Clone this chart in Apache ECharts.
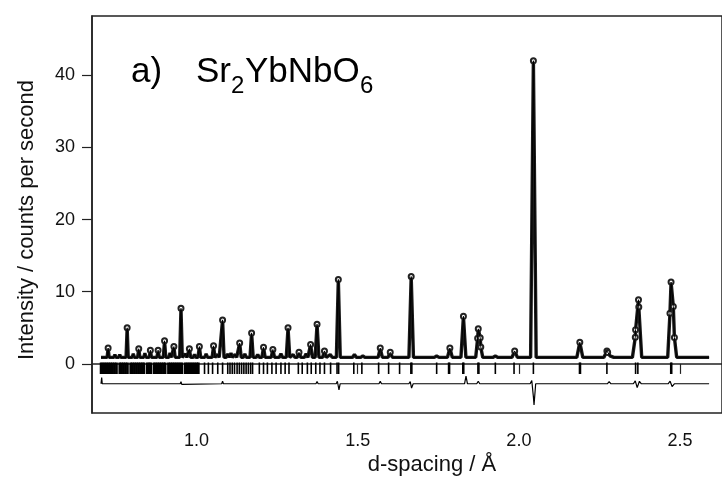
<!DOCTYPE html>
<html>
<head>
<meta charset="utf-8">
<script src="https://cdn.jsdelivr.net/npm/echarts@6/dist/echarts.min.js"></script>
<style>
  html, body { margin: 0; padding: 0; background: #fff; }
  #chart { width: 722px; height: 478px; }
</style>
</head>
<body>
<div id="chart"></div>
<script>
// 观测到的背景强度
const background = 0.9
// 衍射峰 [d-spacing, 峰值强度]
const peaks = [
  [0.726, 2.2], [0.747, 1.3], [0.762, 1.3], [0.785, 5.0], [0.804, 1.4],
  [0.821, 2.1], [0.840, 1.5], [0.857, 1.9], [0.881, 1.9], [0.901, 3.2],
  [0.918, 1.5], [0.930, 2.4], [0.952, 7.7], [0.966, 1.4], [0.978, 2.1],
  [0.994, 1.3], [1.009, 2.4], [1.030, 1.4], [1.053, 2.5], [1.066, 1.3],
  [1.081, 6.1], [1.097, 1.4], [1.107, 1.5], [1.120, 1.3], [1.134, 2.9],
  [1.150, 1.4], [1.171, 4.3], [1.190, 1.3], [1.208, 2.3], [1.237, 2.0],
  [1.262, 1.4], [1.284, 5.0], [1.300, 1.3], [1.318, 1.6], [1.340, 1.4],
  [1.354, 2.7], [1.374, 5.5], [1.397, 1.8], [1.415, 1.3], [1.440, 11.7],
  [1.490, 1.3], [1.516, 1.1], [1.570, 2.2], [1.601, 1.6], [1.666, 12.1],
  [1.745, 1.1], [1.786, 2.2], [1.828, 6.6], [1.874, 4.4], [1.880, 2.8],
  [1.927, 1.1], [1.987, 1.8], [2.045, 42.0], [2.189, 3.0], [2.273, 1.8],
  [2.285, 1.2], [2.362, 4.0], [2.371, 8.6], [2.472, 10.0], [2.479, 5.0]
]
// 布拉格反射位置（低d区密集）
const denseReflections = [
  0.704, 0.710, 0.716, 0.722, 0.728, 0.734, 0.740, 0.746, 0.752,
  0.762, 0.768, 0.774, 0.780, 0.786,
  0.796, 0.802, 0.808, 0.814, 0.820, 0.826, 0.832, 0.837,
  0.847, 0.853, 0.858,
  0.868, 0.874, 0.880, 0.886, 0.892, 0.898, 0.903,
  0.913, 0.919, 0.925, 0.931, 0.937, 0.943, 0.949, 0.955,
  0.965, 0.971, 0.977, 0.983, 0.989, 0.995, 1.001, 1.006
]
const reflections = [
  1.025, 1.037, 1.050, 1.066, 1.081,
  1.097, 1.104, 1.111, 1.118, 1.126, 1.133, 1.140, 1.147, 1.154, 1.161, 1.168, 1.174,
  1.195, 1.208, 1.220, 1.234, 1.247, 1.262, 1.275, 1.287,
  1.316, 1.328, 1.344, 1.356, 1.370, 1.383, 1.397, 1.416, 1.436, 1.441,
  1.488, 1.513, 1.565, 1.596, 1.630, 1.665, 1.668, 1.745, 1.782, 1.785,
  1.826, 1.829, 1.873, 1.876, 1.927, 1.985, 2.045, 2.188, 2.191, 2.273,
  2.362, 2.369, 2.471, 2.474
]
// 反射标记的强度范围
const reflTop = 0.2
const reflBottom = -1.4
// 差值曲线
const diffBase = -2.75
const diffFeatures = [
  [0.706, -1.9], [0.952, -2.45], [0.956, -3.0], [1.081, -2.4], [1.171, -2.5],
  [1.284, -2.5], [1.374, -2.45], [1.437, -2.4], [1.442, -3.6], [1.570, -2.4],
  [1.663, -2.45], [1.668, -3.5], [1.836, -1.7], [1.874, -2.4], [2.040, -2.3],
  [2.047, -5.7], [2.189, -2.5], [2.280, -2.45], [2.361, -2.35], [2.368, -3.4],
  [2.374, -2.4], [2.469, -2.4], [2.476, -3.2]
]
const xTicks = [1.0, 1.5, 2.0, 2.5]
const yTicks = [0, 10, 20, 30, 40]
const dStart = 0.704
const dEnd = 2.59

// 把峰列表转成折线点（三角形叠加）
function profile(list, base, widthFactor) {
  const xs = [dStart, dEnd]
  list.forEach(([d]) => {
    const w = widthFactor * d
    xs.push(d - w, d, d + w)
  })
  xs.sort((a, b) => a - b)
  return xs
    .filter((x) => x >= dStart && x <= dEnd)
    .map((x) => {
      let y = base
      list.forEach(([d, h]) => {
        const t = 1 - Math.abs(x - d) / (widthFactor * d)
        if (t > 0) y += (h - base) * t
      })
      return [x, y]
    })
}

const obsData = profile(peaks, background, 0.0042)
const diffData = profile(diffFeatures, diffBase, 0.0025)
// 只在峰处画圆圈
const obsPoints = obsData.map((p) =>
  p[1] > background + 0.6 ? { value: p } : { value: p, symbol: 'none' }
)

// 画反射竖线
function reflItem(width) {
  return function (params, api) {
    const p1 = api.coord([api.value(0), reflTop])
    const p2 = api.coord([api.value(0), reflBottom])
    return {
      type: 'rect',
      shape: { x: p1[0] - width / 2, y: p1[1], width: width, height: p2[1] - p1[1] },
      style: { fill: '#000' }
    }
  }
}

const font = '"Liberation Sans", Arial, sans-serif'
// 标题文字（主体 + 下标）
function titleText(text, x, y, size) {
  return {
    type: 'text', x: x, y: y,
    style: { text: text, font: size + 'px ' + font, fill: '#000', verticalAlign: 'middle' }
  }
}

const chart = echarts.init(document.getElementById('chart'))

const option = {
  animation: false,
  grid: {
    left: 92, top: 16, width: 633, height: 397,
    show: true, borderColor: '#222', borderWidth: 1.5, backgroundColor: 'transparent'
  },
  xAxis: {
    type: 'value', min: 0.676, max: 2.63,
    axisLine: { lineStyle: { color: '#222', width: 1.5 } },
    axisTick: { inside: false, length: 10, lineStyle: { color: '#222', width: 1.2 }, customValues: xTicks },
    axisLabel: { customValues: xTicks, formatter: (v) => v.toFixed(1), fontSize: 18, color: '#111', margin: 19, fontFamily: font },
    splitLine: { show: false }
  },
  yAxis: {
    type: 'value', min: -6.8, max: 48.2,
    axisLine: { show: true, lineStyle: { color: '#222', width: 1.5 } },
    axisTick: { show: true, length: 10, lineStyle: { color: '#222', width: 1.2 }, customValues: yTicks },
    axisLabel: { customValues: yTicks, fontSize: 18, color: '#111', margin: 17, fontFamily: font },
    splitLine: { show: false }
  },
  graphic: [
    titleText('a)', 131, 72, 35),
    titleText('Sr', 196, 72, 35),
    titleText('2', 231, 86, 24),
    titleText('YbNbO', 245, 72, 35),
    titleText('6', 360, 86, 24),
    {
      type: 'text', x: 432, y: 465,
      style: { text: 'd-spacing / Å', font: '22px ' + font, fill: '#111', align: 'center', verticalAlign: 'middle' }
    },
    {
      type: 'text', x: 27, y: 220, rotation: Math.PI / 2,
      style: { text: 'Intensity / counts per second', font: '22px ' + font, fill: '#111', align: 'center', verticalAlign: 'middle' }
    }
  ],
  series: [
    {
      name: 'obs', type: 'line', data: obsPoints, showSymbol: true,
      symbol: 'emptyCircle', symbolSize: 5,
      itemStyle: { color: '#222', borderWidth: 1 },
      lineStyle: { color: '#1a1a1a', width: 3.4 }, z: 2
    },
    {
      name: 'calc', type: 'line', data: obsData, showSymbol: false,
      lineStyle: { color: '#000', width: 1 }, z: 3
    },
    {
      name: 'refl-dense', type: 'custom', renderItem: reflItem(2.6),
      data: denseReflections.map((d) => [d]), encode: { x: 0 }
    },
    {
      name: 'refl', type: 'custom', renderItem: reflItem(1.6),
      data: reflections.map((d) => [d]), encode: { x: 0 }
    },
    {
      name: 'diff', type: 'line', data: diffData, showSymbol: false,
      lineStyle: { color: '#000', width: 1.2 }
    }
  ]
}
chart.setOption(option)
</script>
</body>
</html>
